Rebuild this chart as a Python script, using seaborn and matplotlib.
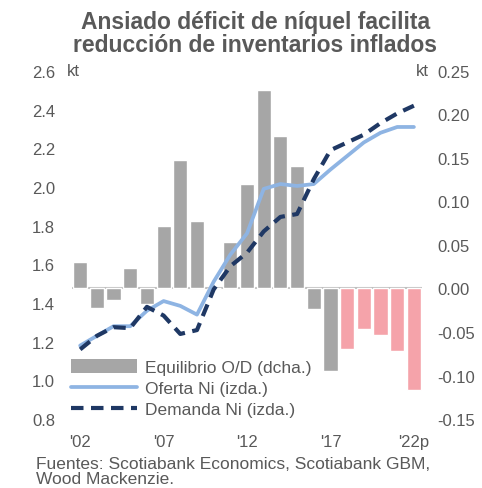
import numpy as np
import pandas as pd
import matplotlib
matplotlib.use("Agg")
import matplotlib.pyplot as plt
import seaborn as sns
from matplotlib.patches import Patch
from matplotlib.lines import Line2D

# ----- Dati -----
years = list(range(2002, 2023))
balance = [0.030, -0.022, -0.013, 0.023, -0.018, 0.072, 0.148, 0.078, 0.000, 0.053,
           0.120, 0.228, 0.175, 0.141, -0.024, -0.095, -0.070, -0.047, -0.054, -0.072, -0.117]
supply = [1.18, 1.23, 1.28, 1.28, 1.36, 1.41, 1.385, 1.34, 1.51, 1.65,
          1.76, 1.99, 2.015, 2.005, 2.015, 2.09, 2.16, 2.23, 2.28, 2.31, 2.31]
demand = [1.16, 1.23, 1.275, 1.27, 1.38, 1.335, 1.24, 1.26, 1.47, 1.59,
          1.66, 1.77, 1.845, 1.86, 2.04, 2.19, 2.23, 2.27, 2.33, 2.38, 2.42]
xtick_labels = ["'02", "'07", "'12", "'17", "'22p"]
forecast_from = 2018

GRAY = "#a6a6a6"
PINK = "#f5a3aa"
LIGHT = "#8eb4e3"
NAVY = "#1f3864"
TXT = "#595959"
FS = 12

sns.set_style("white")
plt.rcParams["font.family"] = ["Liberation Sans", "DejaVu Sans"]

df = pd.DataFrame({"year": years, "balance": balance, "supply": supply, "demand": demand})
df["pos"] = np.arange(len(df))
df["year_s"] = df["year"].astype(str)
colors = [PINK if y >= forecast_from else GRAY for y in years]

fig = plt.figure(figsize=(4.82, 4.89), dpi=100)
ax = fig.add_axes([0.149, 0.141, 0.727, 0.712])
axb = ax.twinx()

# barre (asse destro)
sns.barplot(data=df, x="year_s", y="balance", hue="year_s", palette=colors,
            legend=False, width=0.85, ax=axb, saturation=1)
axb.axhline(0, color="#bfbfbf", lw=1.5, zorder=0)
axb.set_ylim(-0.15, 0.25)
axb.set_yticks(np.arange(-0.15, 0.251, 0.05))
axb.set_yticklabels([f"{v:.2f}" for v in np.arange(-0.15, 0.251, 0.05)])
axb.set_ylabel("")

# linee (asse sinistro)
ax.set_zorder(axb.get_zorder() + 1)
ax.patch.set_visible(False)
sns.lineplot(data=df, x="pos", y="supply", color=LIGHT, lw=2.7, ax=ax)
sns.lineplot(data=df, x="pos", y="demand", color=NAVY, lw=3.0, ax=ax)
ax.lines[1].set_dashes([3.0, 1.8])
ax.set_ylim(0.8, 2.6)
ax.set_yticks(np.arange(0.8, 2.61, 0.2))
ax.set_yticklabels([f"{v:.1f}" for v in np.arange(0.8, 2.61, 0.2)])
ax.set_xlim(-0.5, len(years) - 0.5)
ax.set_xticks([0, 5, 10, 15, 20])
ax.set_xticklabels(xtick_labels)
ax.set_xlabel("")
ax.set_ylabel("")

for a in (ax, axb):
    for s in a.spines.values():
        s.set_visible(False)
    a.tick_params(length=0, labelsize=FS, labelcolor=TXT)
ax.tick_params(axis="y", pad=12)
ax.tick_params(axis="x", pad=11)
axb.tick_params(axis="y", pad=11)

# legenda
handles = [Patch(facecolor=GRAY, edgecolor="none"),
           Line2D([], [], color=LIGHT, lw=2.7),
           Line2D([], [], color=NAVY, lw=3.0, dashes=[3.0, 1.8])]
labels = ["Equilibrio O/D (dcha.)", "Oferta Ni (izda.)", "Demanda Ni (izda.)"]
leg = ax.legend(handles, labels, loc="lower left", bbox_to_anchor=(-0.027, -0.02),
                frameon=False, fontsize=12.5, handlelength=3.8, handleheight=0.85,
                labelspacing=0.3, handletextpad=0.45, borderpad=0)
for t in leg.get_texts():
    t.set_color(TXT)

fig.text(0.139, 0.853, "kt", ha="left", va="center", fontsize=FS, color=TXT)
fig.text(0.889, 0.853, "kt", ha="right", va="center", fontsize=FS, color=TXT)

fig.suptitle("Ansiado déficit de níquel facilita\nreducción de inventarios inflados",
             x=0.53, y=0.978, fontsize=16.5, fontweight="bold", color=TXT, linespacing=1.02)
fig.text(0.075, 0.005, "Fuentes: Scotiabank Economics, Scotiabank GBM,\nWood Mackenzie.",
         ha="left", va="bottom", fontsize=12.5, color=TXT, linespacing=0.95)

fig.savefig("out.png", dpi=100)
